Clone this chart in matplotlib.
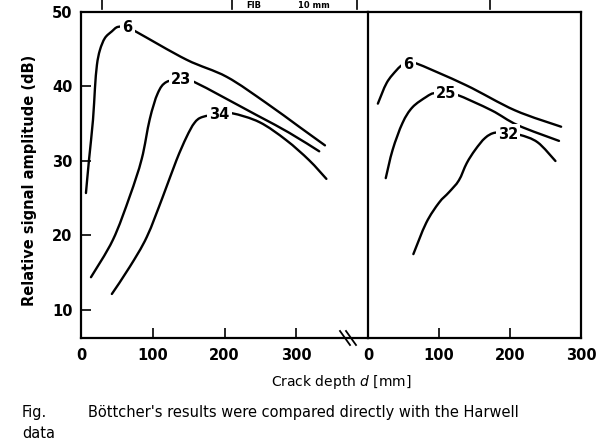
import matplotlib
matplotlib.use("Agg")
import matplotlib.pyplot as plt
from matplotlib.lines import Line2D
from matplotlib.path import Path
from matplotlib.patches import PathPatch

plt.rcParams['font.family'] = ['DejaVu Sans']

# Crack depth d [mm] and relative signal amplitude [dB], left block of results
left_6_x = [6.9, 11.1, 16.7, 19.4, 22.2, 26.4, 33.3, 43.0, 51.4, 65.0, 77.8, 147.0, 203.0, 258.0, 304.0, 340.0]
left_6_y = [25.7, 30.1, 35.5, 39.7, 42.9, 44.9, 46.5, 47.4, 48.0, 47.9, 47.3, 43.6, 41.3, 37.8, 34.6, 32.1]

left_23_x = [13.9, 44.4, 68.1, 84.7, 95.8, 107.0, 119.0, 140.0, 158.0, 244.0, 290.0, 332.0]
left_23_y = [14.4, 19.4, 25.3, 30.3, 35.6, 39.1, 40.6, 40.9, 40.6, 36.2, 33.8, 31.3]

left_34_x = [43.0, 68.0, 91.7, 114.0, 133.0, 147.0, 158.0, 169.0, 193.0, 211.0, 249.0, 286.0, 318.0, 342.0]
left_34_y = [12.15, 15.8, 19.8, 25.2, 30.1, 33.2, 35.1, 35.9, 36.3, 36.4, 35.2, 32.8, 30.1, 27.6]

# Right block of results
right_6_x = [13.9, 26.4, 40.3, 48.6, 57.0, 65.3, 137.5, 207.0, 272.0]
right_6_y = [37.7, 40.5, 42.2, 42.9, 43.0, 43.2, 40.2, 36.8, 34.6]

right_25_x = [25.0, 34.7, 48.6, 62.5, 82.0, 93.0, 110.0, 125.0, 174.0, 211.0, 269.0]
right_25_y = [27.7, 31.5, 35.1, 37.2, 38.6, 39.1, 39.0, 38.9, 36.8, 34.8, 32.7]

right_32_x = [63.9, 82.0, 100.0, 114.0, 128.0, 139.0, 151.0, 165.0, 179.0, 197.0, 214.0, 239.0, 264.0]
right_32_y = [17.5, 21.7, 24.4, 25.8, 27.4, 29.7, 31.5, 33.1, 33.8, 33.6, 33.5, 32.5, 30.0]

# Curve labels and the point where each label sits on its curve
left_labels = ["6", "23", "34"]
left_label_x = [65.0, 140.0, 193.0]
left_label_y = [47.9, 40.9, 36.3]
right_labels = ["6", "25", "32"]
right_label_x = [57.0, 110.0, 197.0]
right_label_y = [43.0, 39.0, 33.6]

x_ticks = [0, 100, 200, 300]
y_ticks = [10, 20, 30, 40, 50]

W, H = 599, 441
fig = plt.figure(figsize=(W / 100, H / 100), dpi=100)
fig.patch.set_facecolor("white")


def fx(px):
    return px / W


def fy(py):
    return 1 - py / H


ax1 = fig.add_axes([fx(81), fy(338), fx(368) - fx(81), fy(12) - fy(338)])
ax2 = fig.add_axes([fx(368), fy(338), fx(581) - fx(368), fy(12) - fy(338)])

FS = 10.5
lw_curve = 1.7
lw_spine = 1.6

for ax, xmax in ((ax1, 400), (ax2, 300)):
    ax.set_xlim(0, xmax)
    ax.set_ylim(6.24, 50)
    ax.set_xticks(x_ticks)
    ax.set_xticklabels([str(t) for t in x_ticks], fontsize=FS, fontweight="bold")
    ax.tick_params(axis="x", direction="in", length=7, width=1.2, pad=7)
    for s in ax.spines.values():
        s.set_linewidth(lw_spine)

ax1.set_yticks(y_ticks)
ax1.set_yticklabels([str(t) for t in y_ticks], fontsize=FS, fontweight="bold")
ax1.tick_params(axis="y", direction="in", length=7, width=1.2, pad=6)
ax1.spines["right"].set_visible(False)
ax2.set_yticks([])


def draw(ax, xs, ys):
    """Smooth curve through the given points (Catmull-Rom as cubic Bezier).
    Control points are found in screen space so bends look even, then
    mapped back to data coordinates."""
    pts = ax.transData.transform(list(zip(xs, ys)))
    n = len(pts)
    verts = [pts[0]]
    codes = [Path.MOVETO]
    for i in range(n - 1):
        p0 = pts[i - 1] if i > 0 else pts[i]
        p1 = pts[i]
        p2 = pts[i + 1]
        p3 = pts[i + 2] if i + 2 < n else pts[i + 1]
        verts += [p1 + (p2 - p0) / 6.0, p2 - (p3 - p1) / 6.0, p2]
        codes += [Path.CURVE4] * 3
    verts = ax.transData.inverted().transform(verts)
    patch = PathPatch(Path(verts, codes), fc="none", ec="black",
                      lw=lw_curve, capstyle="round", joinstyle="round", zorder=2)
    ax.add_patch(patch)


draw(ax1, left_6_x, left_6_y)
draw(ax1, left_23_x, left_23_y)
draw(ax1, left_34_x, left_34_y)
draw(ax2, right_6_x, right_6_y)
draw(ax2, right_25_x, right_25_y)
draw(ax2, right_32_x, right_32_y)

for ax, labs, lx, ly in ((ax1, left_labels, left_label_x, left_label_y),
                         (ax2, right_labels, right_label_x, right_label_y)):
    for t, x, y in zip(labs, lx, ly):
        ax.text(x, y, t, fontsize=FS, fontweight="bold", ha="center", va="center",
                bbox=dict(boxstyle="square,pad=0.15", fc="white", ec="none"), zorder=5)

# Axis break marks on the bottom line between the two blocks
for dxp in (-3, 3):
    x0 = fx(348 + dxp - 5)
    x1 = fx(348 + dxp + 5)
    fig.add_artist(Line2D([x0, x1], [fy(331), fy(345)], color="black", lw=1.3))

# Short marks above the frame
for px in (102, 232, 357, 490):
    fig.add_artist(Line2D([fx(px), fx(px)], [fy(0), fy(9)], color="black", lw=1.2))
fig.text(fx(246), fy(8), "FIB", fontsize=6, fontweight="bold", va="baseline")
fig.text(fx(298), fy(8), "10 mm", fontsize=6, fontweight="bold", va="baseline")

fig.text(fx(30), fy(180), "Relative signal amplitude (dB)", rotation=90,
         fontsize=FS, fontweight="bold", ha="center", va="center")
fig.text(fx(341), fy(382), "Crack depth $\\mathit{d}$ [mm]", fontsize=FS - 0.5,
         ha="center", va="center")

fig.text(fx(22), fy(412), "Fig.", fontsize=FS, ha="left", va="center")
fig.text(fx(88), fy(412), "Böttcher's results were compared directly with the Harwell",
         fontsize=FS, ha="left", va="center")
fig.text(fx(22), fy(433), "data", fontsize=FS, ha="left", va="center")

fig.savefig("out.png", dpi=100, facecolor="white")
